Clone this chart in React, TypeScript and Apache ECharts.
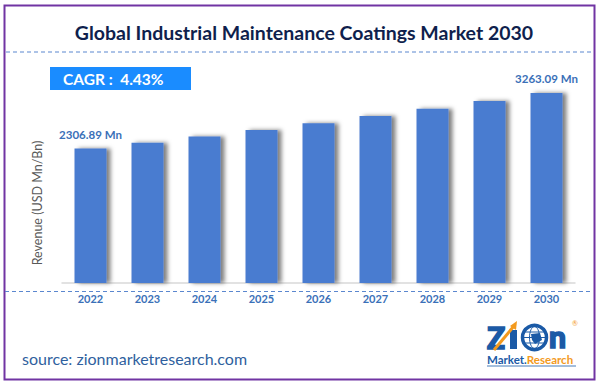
import React, { useEffect, useRef } from "react";
import * as echarts from "echarts";

const titleText = "Global Industrial Maintenance Coatings Market 2030";
const cagrText = "CAGR :  4.43%";
const sourceText = "source: zionmarketresearch.com";
const yAxisName = "Revenue (USD Mn/Bn)";
const categories = ["2022", "2023", "2024", "2025", "2026", "2027", "2028", "2029", "2030"];
const revenue = [2306.89, 2409.1, 2515.8, 2627.3, 2743.7, 2865.2, 2992.2, 3124.7, 3263.09];
const labeledYears = ["2022", "2030"];
const unit = "Mn";

const FONT = "Lato, 'Open Sans', sans-serif";
const BLUE_TEXT = "#3a70b8";
const BAR = "#4a7bd0";
const LOGO_BLUE = "#1b5aa6";
const LOGO_ORANGE = "#f39a1e";

export default function App() {
  const ref = useRef<HTMLDivElement>(null);
  useEffect(() => {
    if (!ref.current) return;
    const chart = echarts.init(ref.current, undefined, { renderer: "svg" });
    const option = {
      animation: false,
      backgroundColor: "#ffffff",
      grid: { left: 62, right: 26, top: 50, bottom: 104 },
      xAxis: {
        type: "category",
        data: categories,
        axisLine: { lineStyle: { color: "#d9d9d9", width: 1.5 } },
        axisTick: { show: false },
        axisLabel: {
          color: BLUE_TEXT,
          fontFamily: FONT,
          fontWeight: "bold",
          fontSize: 11,
          margin: 10,
        },
      },
      yAxis: {
        type: "value",
        min: 0,
        max: 4000,
        axisLine: { show: false },
        axisTick: { show: false },
        axisLabel: { show: false },
        splitLine: { show: false },
      },
      series: [
        {
          type: "bar",
          barWidth: 32,
          data: revenue.map((v, i) => ({
            value: v,
            label: { show: labeledYears.includes(categories[i]) },
          })),
          itemStyle: {
            color: BAR,
            shadowColor: "rgba(0,0,0,0.5)",
            shadowBlur: 4,
            shadowOffsetX: 4,
            shadowOffsetY: 0,
          },
          label: {
            position: "top",
            distance: 8,
            color: BLUE_TEXT,
            fontFamily: FONT,
            fontWeight: "bold",
            fontSize: 11.5,
            formatter: (p: any) => `${p.value} ${unit}`,
          },
        },
      ],
      graphic: [
        {
          type: "rect",
          shape: { x: 4.5, y: 5.5, width: 590, height: 374 },
          style: { fill: "none", stroke: "#7134a3", lineWidth: 2 },
          silent: true,
        },
        {
          type: "text",
          x: 304,
          y: 32,
          style: {
            text: titleText,
            fill: "#0f1f4d",
            font: `bold 19.5px ${FONT}`,
            textAlign: "center",
            textVerticalAlign: "middle",
          },
        },
        {
          type: "text",
          x: 37,
          y: 203,
          rotation: Math.PI / 2,
          style: {
            text: yAxisName,
            fill: "#595959",
            font: `12.5px ${FONT}`,
            textAlign: "center",
            textVerticalAlign: "middle",
          },
        },
        {
          type: "line",
          shape: { x1: 6, y1: 52, x2: 593, y2: 52 },
          style: { stroke: "#5b87cf", lineWidth: 1, lineDash: [4, 3] },
        },
        {
          type: "line",
          shape: { x1: 5, y1: 291.5, x2: 593, y2: 291.5 },
          style: { stroke: "#5b87cf", lineWidth: 1, lineDash: [4, 3] },
        },
        {
          type: "rect",
          shape: { x: 50, y: 67, width: 141, height: 23 },
          style: { fill: "#1a8cff" },
        },
        {
          type: "text",
          x: 63,
          y: 78.5,
          style: {
            text: cagrText,
            fill: "#ffffff",
            font: `bold 15.5px ${FONT}`,
            textVerticalAlign: "middle",
          },
        },
        {
          type: "text",
          x: 22,
          y: 358,
          style: {
            text: sourceText,
            fill: "#2f5f9e",
            font: `16px ${FONT}`,
            textVerticalAlign: "middle",
          },
        },
        // Logo
        {
          type: "text",
          x: 487,
          y: 336.5,
          style: {
            text: "Z",
            fill: LOGO_BLUE,
            font: `900 30px ${FONT}`,
            stroke: LOGO_BLUE,
            lineWidth: 1.4,
            textVerticalAlign: "middle",
          },
        },
        {
          type: "rect",
          shape: { x: 510, y: 330, width: 7, height: 19 },
          style: { fill: LOGO_BLUE },
        },
        {
          type: "line",
          shape: { x1: 494, y1: 350, x2: 514, y2: 326 },
          style: { stroke: LOGO_ORANGE, lineWidth: 3 },
        },
        {
          type: "polygon",
          shape: { points: [[510, 326], [517, 321], [516, 330]] },
          style: { fill: LOGO_ORANGE },
        },
        {
          type: "circle",
          shape: { cx: 534.5, cy: 337.5, r: 12 },
          style: { fill: "#ffffff", stroke: LOGO_BLUE, lineWidth: 3.5 },
        },
        {
          type: "ellipse",
          shape: { cx: 534.5, cy: 337.5, rx: 5, ry: 11 },
          style: { fill: "none", stroke: LOGO_BLUE, lineWidth: 1 },
        },
        {
          type: "line",
          shape: { x1: 523, y1: 337.5, x2: 546, y2: 337.5 },
          style: { stroke: LOGO_BLUE, lineWidth: 1 },
        },
        {
          type: "line",
          shape: { x1: 525, y1: 332, x2: 544, y2: 332 },
          style: { stroke: LOGO_BLUE, lineWidth: 1 },
        },
        {
          type: "line",
          shape: { x1: 525, y1: 343, x2: 544, y2: 343 },
          style: { stroke: LOGO_BLUE, lineWidth: 1 },
        },
        {
          type: "polygon",
          shape: { points: [[531, 334], [540, 333], [542, 340], [535, 344], [532, 340]] },
          style: { fill: LOGO_BLUE },
        },
        {
          type: "text",
          x: 549,
          y: 335.5,
          style: {
            text: "n",
            fill: LOGO_BLUE,
            font: `900 30px ${FONT}`,
            stroke: LOGO_BLUE,
            lineWidth: 1.6,
            textVerticalAlign: "middle",
          },
        },
        {
          type: "text",
          x: 575,
          y: 323,
          style: {
            text: "®",
            fill: LOGO_ORANGE,
            font: `7px ${FONT}`,
            textAlign: "center",
            textVerticalAlign: "middle",
          },
        },
        {
          type: "text",
          x: 487,
          y: 359.5,
          style: {
            text: "{a|Market.}{b|Research}",
            textVerticalAlign: "middle",
            rich: {
              a: { fill: LOGO_BLUE, font: `bold 11.5px ${FONT}` },
              b: { fill: LOGO_ORANGE, font: `bold 11.5px ${FONT}` },
            },
          },
        },
        {
          type: "line",
          shape: { x1: 487, y1: 366, x2: 576, y2: 366 },
          style: { stroke: LOGO_BLUE, lineWidth: 0.8 },
        },
      ],
    };
    chart.setOption(option as any);
    return () => chart.dispose();
  }, []);
  return (
    <div
      ref={ref}
      style={{ position: "fixed", left: 0, top: 0, width: 601, height: 387 }}
    />
  );
}
